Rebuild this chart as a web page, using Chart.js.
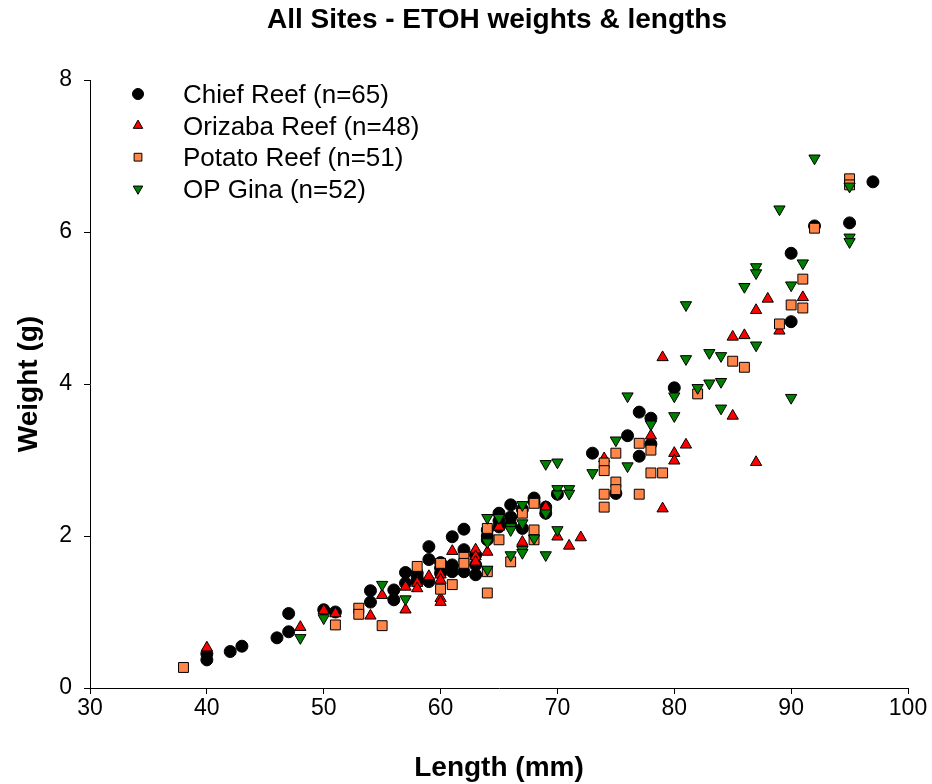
<!DOCTYPE html>
<html>
<head>
<meta charset="utf-8">
<script src="https://cdn.jsdelivr.net/npm/chart.js@4.4.1/dist/chart.umd.min.js"></script>
<style>
  html, body { margin: 0; padding: 0; background: #fff; }
  canvas { display: block; }
</style>
</head>
<body>
<canvas id="c" width="932" height="784"></canvas>
<script>
// length (mm) / weight (g)
const chiefX = [40, 40, 42, 43, 46, 47, 47, 50, 51, 54, 54, 56, 56, 57, 57, 58, 58, 59, 59, 59,
  60, 60, 61, 61, 61, 62, 62, 62, 63, 63, 64, 64, 65, 65, 66, 66, 67, 67, 68, 68, 69, 69,
  70, 73, 75, 76, 77, 77, 78, 78, 80, 90, 90, 92, 95, 97, 58, 60, 61, 63, 64, 65, 66]
const chiefY = [0.37, 0.45, 0.48, 0.55, 0.66, 0.74, 0.98, 1.03, 1.0, 1.13, 1.28, 1.16, 1.29, 1.38, 1.52, 1.51, 1.45, 1.86, 1.69, 1.40,
  1.65, 1.51, 1.99, 1.62, 1.53, 2.09, 1.82, 1.53, 1.49, 1.75, 2.08, 1.95, 2.30, 2.12, 2.41, 2.15, 2.10, 2.35, 2.50, 2.45, 2.38, 2.30,
  2.55, 3.09, 2.56, 3.32, 3.63, 3.05, 3.55, 3.21, 3.95, 5.72, 4.82, 6.08, 6.12, 6.66, 1.40, 1.58, 1.60, 1.62, 2.00, 2.20, 2.25]

const orizabaX = [40, 48, 50, 51, 54, 55, 57, 57, 58, 58, 59, 60, 60, 60, 60, 61, 63, 63, 63, 64, 65, 67,
  69, 70, 71, 72, 74, 78, 79, 79, 80, 80, 81, 85, 85, 86, 87, 87, 88, 89, 91]
const orizabaY = [0.53, 0.80, 1.02, 0.98, 0.95, 1.22, 1.33, 1.03, 1.38, 1.31, 1.47, 1.49, 1.42, 1.18, 1.13, 1.80, 1.82, 1.73, 1.66, 1.79, 2.12, 1.92,
  2.38, 1.99, 1.87, 1.98, 3.02, 3.32, 4.35, 2.36, 3.09, 2.99, 3.20, 4.62, 3.58, 4.64, 4.97, 2.97, 5.12, 4.70, 5.14]

const potatoX = [38, 51, 53, 53, 55, 58, 60, 60, 61, 62, 62, 64, 64, 64, 65, 66, 67, 68, 68, 68,
  74, 74, 74, 74, 75, 75, 75, 77, 77, 78, 78, 79, 82, 85, 86, 89, 90, 91, 91, 92, 95, 95]
const potatoY = [0.27, 0.83, 1.05, 0.97, 0.82, 1.60, 1.64, 1.30, 1.36, 1.72, 1.64, 2.10, 1.53, 1.25, 1.95, 1.66, 2.30, 2.43, 2.08, 1.95,
  2.96, 2.86, 2.55, 2.38, 3.09, 2.71, 2.61, 3.22, 2.55, 3.13, 2.83, 2.83, 3.87, 4.30, 4.22, 4.79, 5.04, 5.38, 5.00, 6.05, 6.70, 6.62]

const ginaX = [48, 50, 55, 57, 64, 64, 64, 65, 66, 66, 66, 67, 67, 67, 67, 68, 69, 69, 69, 70, 70, 70, 70,
  71, 71, 73, 75, 76, 76, 78, 80, 80, 81, 81, 82, 83, 83, 84, 84, 84, 86, 87, 87, 87, 89, 90, 90, 91, 92, 95, 95, 95]
const ginaY = [0.66, 0.92, 1.36, 1.17, 2.24, 1.92, 1.56, 2.24, 2.12, 2.08, 1.75, 2.41, 2.17, 1.82, 1.78, 1.97, 2.30, 2.95, 1.75, 2.97, 2.62, 2.55, 2.08,
  2.62, 2.56, 2.83, 3.26, 2.92, 3.84, 3.47, 3.84, 3.58, 5.04, 4.33, 3.95, 4.41, 4.01, 4.37, 4.03, 3.68, 5.28, 5.54, 5.46, 4.51, 6.30, 5.30, 3.82, 5.59, 6.97, 6.60, 5.93, 5.87]

const seriesNames = ['Chief Reef (n=65)', 'Orizaba Reef (n=48)', 'Potato Reef (n=51)', 'OP Gina (n=52)']
const xTicks = [30, 40, 50, 60, 70, 80, 90, 100]
const yTicks = [0, 2, 4, 6, 8]

const pts = (xs, ys) => xs.map((x, i) => ({ x: x, y: ys[i] }))

const FONT = "'Liberation Sans', Arial, Helvetica, sans-serif"

const styles = [
  { pointStyle: 'circle', radius: 6, rotation: 0, bg: '#000000', legendR: 5.5 },
  { pointStyle: 'triangle', radius: 6.5, rotation: 0, bg: '#ff0000', legendR: 5.5 },
  { pointStyle: 'rect', radius: 7, rotation: 0, bg: '#ff8548', legendR: 5.5 },
  { pointStyle: 'triangle', radius: 6.5, rotation: 180, bg: '#008000', legendR: 5.5 }
]

const allData = [pts(chiefX, chiefY), pts(orizabaX, orizabaY), pts(potatoX, potatoY), pts(ginaX, ginaY)]

const datasets = allData.map((d, i) => ({
  label: seriesNames[i],
  data: d,
  pointStyle: styles[i].pointStyle,
  pointRadius: styles[i].radius,
  pointRotation: styles[i].rotation,
  pointBackgroundColor: styles[i].bg,
  pointBorderColor: '#000000',
  pointBorderWidth: 1,
  showLine: false,
  order: 4 - i
}))

const textPlugin = {
  id: 'texts',
  afterDraw(chart) {
    const ctx = chart.ctx
    ctx.save()
    ctx.fillStyle = '#000'
    ctx.textAlign = 'center'
    ctx.textBaseline = 'alphabetic'
    ctx.font = 'bold 28px ' + FONT
    ctx.fillText('All Sites - ETOH weights & lengths', 497, 28)
    ctx.fillText('Length (mm)', 499, 776)
    ctx.save()
    ctx.translate(37, 384)
    ctx.rotate(-Math.PI / 2)
    ctx.fillText('Weight (g)', 0, 0)
    ctx.restore()

    // legend
    ctx.font = '26px ' + FONT
    ctx.textAlign = 'left'
    seriesNames.forEach((name, i) => {
      const cy = 94 + i * 31.6
      ctx.fillStyle = styles[i].bg
      ctx.strokeStyle = '#000'
      ctx.lineWidth = 1
      Chart.helpers.drawPoint(ctx, {
        pointStyle: styles[i].pointStyle,
        radius: styles[i].legendR,
        rotation: styles[i].rotation,
        borderWidth: 1
      }, 138, cy)
      ctx.fillStyle = '#000'
      ctx.fillText(name, 183, cy + 9)
    })
    ctx.restore()
  }
}

new Chart(document.getElementById('c'), {
  type: 'scatter',
  data: { datasets: datasets },
  options: {
    responsive: false,
    animation: false,
    devicePixelRatio: 1,
    layout: { padding: { top: 80, right: 24, left: 0, bottom: 0 } },
    plugins: {
      legend: { display: false },
      title: { display: false },
      tooltip: { enabled: false }
    },
    scales: {
      x: {
        type: 'linear',
        min: 30,
        max: 100,
        afterFit: s => { s.height = 96 },
        afterBuildTicks: s => { s.ticks = xTicks.map(v => ({ value: v })) },
        border: { display: true, color: '#000', width: 1 },
        grid: { display: true, drawOnChartArea: false, drawTicks: true, tickLength: 6, color: '#000' },
        ticks: { color: '#000', padding: 1, maxRotation: 0, font: { family: FONT, size: 23 } }
      },
      y: {
        type: 'linear',
        min: 0,
        max: 8,
        afterFit: s => { s.width = 90 },
        afterBuildTicks: s => { s.ticks = yTicks.map(v => ({ value: v })) },
        border: { display: true, color: '#000', width: 1 },
        grid: { display: true, drawOnChartArea: false, drawTicks: true, tickLength: 6, color: '#000' },
        ticks: { color: '#000', padding: 12, font: { family: FONT, size: 23 } }
      }
    }
  },
  plugins: [textPlugin]
})
</script>
</body>
</html>
